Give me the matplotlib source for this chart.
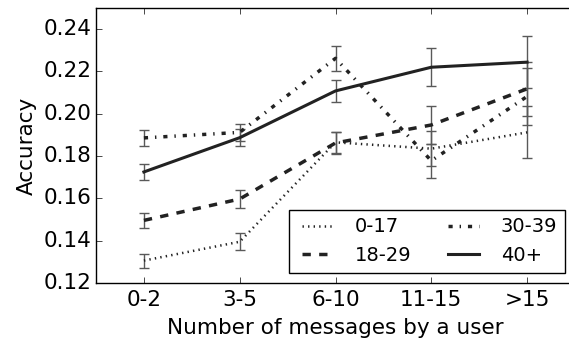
import matplotlib
matplotlib.use("Agg")
import matplotlib.pyplot as plt

plt.style.use("classic")
plt.rcParams["figure.facecolor"] = "white"
plt.rcParams["savefig.facecolor"] = "white"
plt.rcParams["font.family"] = "DejaVu Sans"

bins = ["0-2", "3-5", "6-10", "11-15", ">15"]
groups = ["0-17", "18-29", "30-39", "40+"]

acc_0_17 = [0.1306, 0.1395, 0.1865, 0.1835, 0.1912]
err_0_17 = [0.0033, 0.0040, 0.0050, 0.0084, 0.0123]
acc_18_29 = [0.1496, 0.1597, 0.1862, 0.1947, 0.2118]
err_18_29 = [0.0037, 0.0043, 0.0054, 0.0090, 0.0127]
acc_30_39 = [0.1886, 0.1912, 0.2262, 0.1778, 0.2082]
err_30_39 = [0.0037, 0.0040, 0.0058, 0.0080, 0.0133]
acc_40 = [0.1725, 0.1887, 0.2108, 0.2220, 0.2244]
err_40 = [0.0038, 0.0040, 0.0053, 0.0090, 0.0123]

series = [
    (acc_0_17, err_0_17, ":", 1.8),
    (acc_18_29, err_18_29, "--", 2.5),
    (acc_30_39, err_30_39, "-.", 2.5),
    (acc_40, err_40, "-", 2.2),
]

fig = plt.figure(figsize=(5.69, 3.38), dpi=100)
ax = fig.add_axes([96 / 569, 55 / 338, 479 / 569, 275 / 338])

x = list(range(len(bins)))
for (vals, errs, ls, lw), label in zip(series, groups):
    ax.errorbar(x, vals, yerr=errs, color="#222222", ls=ls, lw=lw,
                ecolor="0.35", elinewidth=1, capsize=3.5, capthick=1,
                label=label)

ax.set_xlim(-0.5, len(bins) - 0.5)
ax.set_ylim(0.12, 0.25)
ax.set_yticks([0.12, 0.14, 0.16, 0.18, 0.20, 0.22, 0.24])
ax.set_xticks(x)
ax.set_xticklabels(bins)
ax.tick_params(labelsize=15.5)
ax.tick_params(axis="x", pad=5)
ax.tick_params(axis="y", pad=3)
ax.set_xlabel("Number of messages by a user", fontsize=15.5, labelpad=6)
ax.set_ylabel("Accuracy", fontsize=15.5, labelpad=5)

handles, labels = ax.get_legend_handles_labels()
ax.legend([h[0] for h in handles], labels, loc="lower right", ncol=2,
          fontsize=14, handlelength=2.2, columnspacing=1.6,
          bbox_to_anchor=(565 / 569, 65 / 338), bbox_transform=fig.transFigure,
          borderaxespad=0.0)

fig.savefig("out.png", dpi=100)
